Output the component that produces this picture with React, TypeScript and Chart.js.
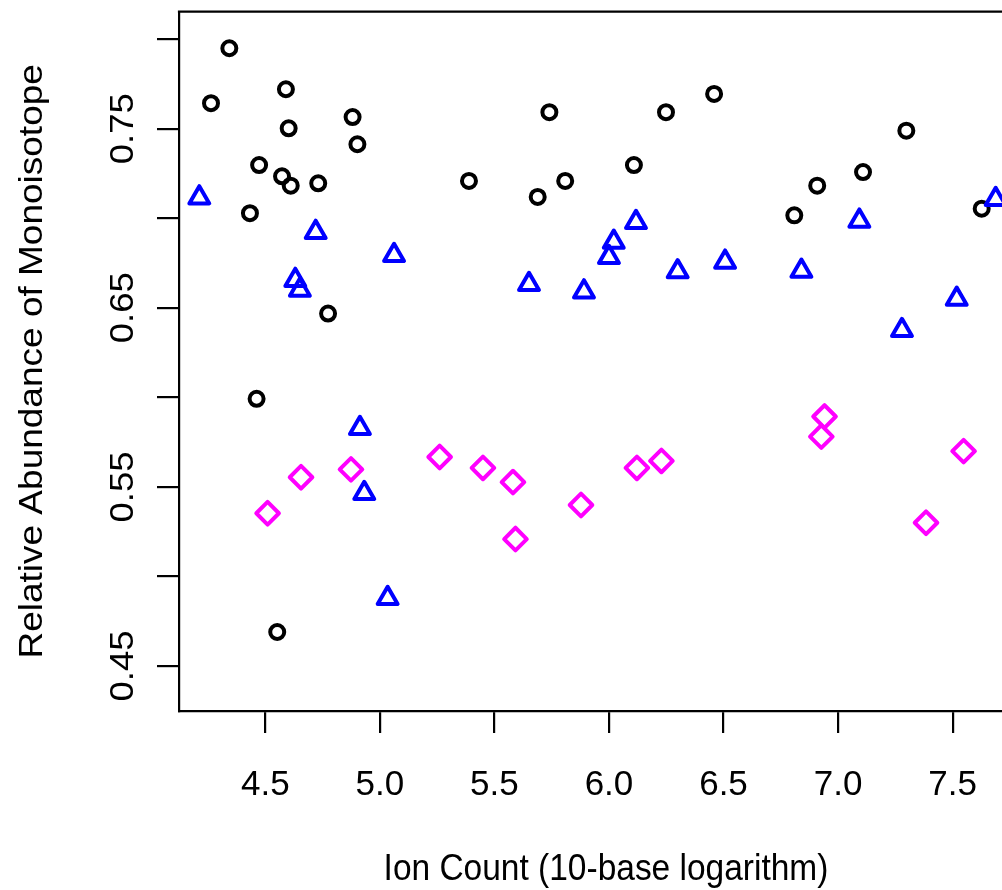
import React, { useEffect, useRef } from "react";
import { Chart, registerables } from "chart.js";

Chart.register(...registerables);

const FONT = '"Liberation Sans", Arial, Helvetica, sans-serif';

const X_MIN = 4.1233;
const X_MAX = 7.7156;
const Y_MIN = 0.4249;
const Y_MAX = 0.8153;

const X_TICKS = [4.5, 5.0, 5.5, 6.0, 6.5, 7.0, 7.5];
const X_TICK_LABELS = ["4.5", "5.0", "5.5", "6.0", "6.5", "7.0", "7.5"];
const Y_TICKS = [0.45, 0.5, 0.55, 0.6, 0.65, 0.7, 0.75, 0.8];
const Y_TICK_LABELS = ["0.45", "", "0.55", "", "0.65", "", "0.75", ""];

const X_TITLE = "Ion Count (10-base logarithm)";
const Y_TITLE = "Relative Abundance of Monoisotope";

const circleX = [4.343, 4.263, 4.590, 4.602, 4.881, 4.902, 4.473, 4.573, 4.611, 4.731, 4.433, 5.389, 4.774, 4.462, 4.552, 5.740, 5.689, 5.809, 6.249, 6.459, 6.109, 7.298, 7.109, 6.909, 6.809, 7.627];
const circleY = [0.7949, 0.7642, 0.7720, 0.7502, 0.7565, 0.7413, 0.7297, 0.7234, 0.7182, 0.7195, 0.7028, 0.7208, 0.6468, 0.5992, 0.4690, 0.7592, 0.7119, 0.7208, 0.7592, 0.7694, 0.7297, 0.7489, 0.7258, 0.7182, 0.7016, 0.7053];

const triangleX = [4.212, 4.720, 5.062, 4.631, 4.651, 4.913, 4.932, 5.034, 6.118, 6.021, 6.000, 5.651, 5.891, 6.300, 6.507, 7.688, 7.093, 6.840, 7.518, 7.279];
const triangleY = [0.7115, 0.6922, 0.6793, 0.6654, 0.6599, 0.5827, 0.5464, 0.4878, 0.6977, 0.6867, 0.6782, 0.6631, 0.6590, 0.6702, 0.6756, 0.7106, 0.6985, 0.6705, 0.6549, 0.6374];

const diamondX = [4.510, 4.656, 4.874, 5.261, 5.450, 5.581, 5.592, 5.878, 6.122, 6.229, 6.941, 6.927, 7.548, 7.384];
const diamondY = [0.5353, 0.5554, 0.5598, 0.5667, 0.5606, 0.5527, 0.5209, 0.5399, 0.5606, 0.5645, 0.5893, 0.5781, 0.5700, 0.5300];

const toPoints = (xs: number[], ys: number[]) => xs.map((x, i) => ({ x, y: ys[i] }));

const LINE_W = 2.2;
const MARK_W = 4;
const HSCALE = 0.905;

const roundJoinPlugin = {
  id: "roundJoin",
  beforeDatasetsDraw(chart: any) {
    chart.ctx.save();
    chart.ctx.lineJoin = "round";
  },
  afterDatasetsDraw(chart: any) {
    chart.ctx.restore();
  },
};

const textPlugin = {
  id: "rText",
  afterDraw(chart: any) {
    const ctx = chart.ctx as CanvasRenderingContext2D;
    const xs = chart.scales.x;
    const ys = chart.scales.y;
    const area = chart.chartArea;
    ctx.save();
    // top border of the plot box
    ctx.strokeStyle = "#000";
    ctx.lineWidth = LINE_W;
    ctx.beginPath();
    ctx.moveTo(area.left - LINE_W / 2, area.top);
    ctx.lineTo(area.right + 10, area.top);
    ctx.stroke();

    ctx.fillStyle = "#000";
    ctx.textAlign = "center";
    ctx.textBaseline = "alphabetic";

    ctx.font = `35px ${FONT}`;
    X_TICKS.forEach((v, i) => {
      ctx.fillText(X_TICK_LABELS[i], xs.getPixelForValue(v), area.bottom + 84);
    });

    ctx.font = `36.5px ${FONT}`;
    Y_TICKS.forEach((v, i) => {
      const lab = Y_TICK_LABELS[i];
      if (!lab) return;
      ctx.save();
      ctx.translate(area.left - 46, ys.getPixelForValue(v));
      ctx.scale(HSCALE, 1);
      ctx.rotate(-Math.PI / 2);
      ctx.fillText(lab, 0, 0);
      ctx.restore();
    });

    ctx.font = `37px ${FONT}`;
    ctx.save();
    ctx.translate(606, 880);
    ctx.scale(HSCALE, 1);
    ctx.fillText(X_TITLE, 0, 0);
    ctx.restore();

    ctx.save();
    ctx.translate(42, (area.top + area.bottom) / 2);
    ctx.scale(HSCALE, 1);
    ctx.rotate(-Math.PI / 2);
    ctx.fillText(Y_TITLE, 0, 0);
    ctx.restore();
    ctx.restore();
  },
};

export default function App() {
  const ref = useRef<HTMLCanvasElement | null>(null);

  useEffect(() => {
    if (!ref.current) return;
    const chart = new Chart(ref.current, {
      type: "scatter",
      data: {
        datasets: [
          {
            label: "circles",
            data: toPoints(circleX, circleY),
            pointStyle: "circle",
            pointRadius: 7,
            pointBorderColor: "#000000",
            pointBackgroundColor: "rgba(0,0,0,0)",
            pointBorderWidth: MARK_W,
            borderWidth: MARK_W,
            borderColor: "#000000",
            backgroundColor: "rgba(0,0,0,0)",
            order: 3,
          },
          {
            label: "triangles",
            data: toPoints(triangleX, triangleY),
            pointStyle: "triangle",
            pointRadius: 11.5,
            pointBorderColor: "#0000FF",
            pointBackgroundColor: "rgba(0,0,0,0)",
            pointBorderWidth: MARK_W,
            borderWidth: MARK_W,
            borderColor: "#0000FF",
            backgroundColor: "rgba(0,0,0,0)",
            order: 2,
          },
          {
            label: "diamonds",
            data: toPoints(diamondX, diamondY),
            pointStyle: "rectRot",
            pointRadius: 11.3,
            pointBorderColor: "#FF00FF",
            pointBackgroundColor: "rgba(0,0,0,0)",
            pointBorderWidth: MARK_W,
            borderWidth: MARK_W,
            borderColor: "#FF00FF",
            backgroundColor: "rgba(0,0,0,0)",
            order: 1,
          },
        ],
      },
      options: {
        animation: false,
        responsive: false,
        events: [],
        elements: { point: { borderWidth: MARK_W } },
        layout: { autoPadding: false, padding: { top: 11.7, right: 0, left: 0, bottom: 0 } },
        plugins: {
          legend: { display: false },
          tooltip: { enabled: false },
        },
        scales: {
          x: {
            type: "linear",
            min: X_MIN,
            max: X_MAX,
            afterBuildTicks: (s: any) => {
              s.ticks = X_TICKS.map((v) => ({ value: v }));
            },
            afterFit: (s: any) => {
              s.height = 179;
            },
            ticks: { display: false },
            grid: {
              drawOnChartArea: false,
              drawTicks: true,
              tickLength: 22,
              color: "#000",
              lineWidth: LINE_W,
            },
            border: { display: true, color: "#000", width: LINE_W },
          },
          y: {
            type: "linear",
            min: Y_MIN,
            max: Y_MAX,
            afterBuildTicks: (s: any) => {
              s.ticks = Y_TICKS.map((v) => ({ value: v }));
            },
            afterFit: (s: any) => {
              s.width = 179;
            },
            ticks: { display: false },
            grid: {
              drawOnChartArea: false,
              drawTicks: true,
              tickLength: 22,
              color: "#000",
              lineWidth: LINE_W,
            },
            border: { display: true, color: "#000", width: LINE_W },
          },
        },
      },
      plugins: [roundJoinPlugin, textPlugin],
    });
    return () => chart.destroy();
  }, []);

  return (
    <div style={{ position: "absolute", left: 0, top: 0, width: 1002, height: 890, background: "#fff" }}>
      <canvas ref={ref} width={1002} height={890} style={{ display: "block", width: 1002, height: 890 }} />
    </div>
  );
}
